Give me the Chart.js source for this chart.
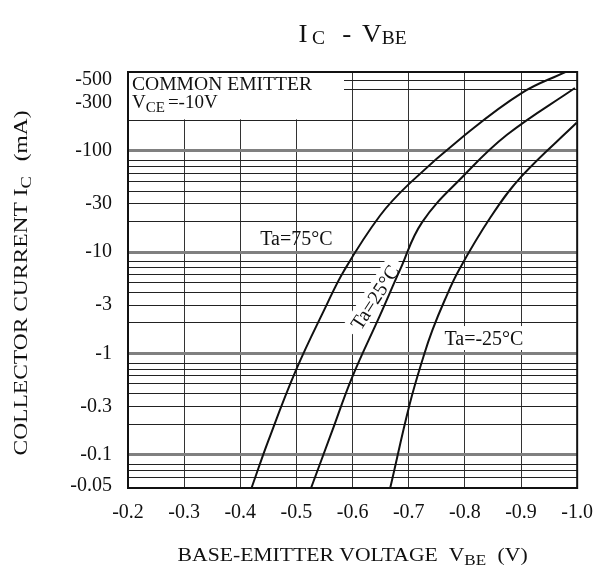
<!DOCTYPE html>
<html lang="en">
<head>
<meta charset="UTF-8">
<title>IC - VBE</title>
<script src="https://cdn.jsdelivr.net/npm/chart.js"></script>
<style>
  body { margin: 0; background: #fff; }
</style>
</head>
<body>
<canvas id="icVbe" width="606" height="575"></canvas>
<script>
// base-emitter voltage (V) and collector current |Ic| (mA, labelled negative)
const vbe75 = [-0.420, -0.450, -0.499, -0.551, -0.585, -0.649, -0.702, -0.799, -0.901, -0.979];
const ic75 = [0.047, 0.138, 0.68, 2.8, 6.6, 23, 48, 142, 372, 600];

const vbe25 = [-0.526, -0.563, -0.599, -0.649, -0.684, -0.724, -0.799, -0.875, -0.996];
const ic25 = [0.047, 0.168, 0.578, 2.39, 6.6, 19.8, 57.8, 144, 417];

const vbeM25 = [-0.667, -0.702, -0.727, -0.742, -0.764, -0.789, -0.846, -0.900, -0.999];
const icM25 = [0.047, 0.32, 0.96, 1.69, 3.35, 6.6, 22.2, 55.3, 189];

const xTicks = [-0.2, -0.3, -0.4, -0.5, -0.6, -0.7, -0.8, -0.9, -1.0];
const yLabels = [0.05, 0.1, 0.3, 1, 3, 10, 30, 100, 300, 500];
const yDecades = [0.1, 1, 10, 100];
const yMinor = [0.06, 0.07, 0.08,
  0.2, 0.3, 0.4, 0.5, 0.6, 0.7, 0.8,
  2, 3, 4, 5, 6, 7, 8,
  20, 30, 40, 50, 60, 70, 80,
  200, 400, 500];
const yTicks = [...new Set([...yLabels, ...yDecades, ...yMinor])].sort((a, b) => a - b);

const FONT = '"Liberation Serif", "Times New Roman", serif';

function pts(xs, ys) {
  return xs.map((x, i) => ({ x: x, y: ys[i] }));
}

// draws a row of text pieces (for subscripts); opt.width stretches to a length
function drawRuns(ctx, runs, x, y, opt) {
  opt = opt || {};
  ctx.save();
  let w = 0;
  runs.forEach(r => {
    if (r.t) {
      ctx.font = r.f + 'px ' + FONT;
      r.w = ctx.measureText(r.t).width;
    } else {
      r.w = r.gap;
    }
    w += r.w;
  });
  const sx = opt.width ? opt.width / w : 1;
  ctx.translate(x, y);
  if (opt.rotate) ctx.rotate(opt.rotate);
  ctx.scale(sx, 1);
  let cx = opt.align === 'left' ? 0 : -w / 2;
  ctx.fillStyle = '#111';
  ctx.textBaseline = 'alphabetic';
  ctx.textAlign = 'left';
  runs.forEach(r => {
    if (r.t) {
      ctx.font = r.f + 'px ' + FONT;
      ctx.fillText(r.t, cx, r.dy || 0);
    }
    cx += r.w;
  });
  ctx.restore();
}

const labelPos = {
  t75: { x: -0.500, y: 13.8 },
  t25: { x: -0.639, y: 3.6 },
  tM25: { x: -0.834, y: 1.42 }
};
const ANGLE25 = -57 * Math.PI / 180;

const decor = {
  id: 'decor',
  beforeDatasetsDraw(chart) {
    const { ctx, chartArea: a, scales } = chart;
    const xs = scales.x, ys = scales.y;
    ctx.save();
    ctx.fillStyle = '#fff';
    // legend box in the top left corner
    ctx.fillRect(a.left + 1, a.top + 1, 343 - a.left, ys.getPixelForValue(200) - a.top - 2);
    // box behind Ta=-25
    const px = xs.getPixelForValue(labelPos.tM25.x), py = ys.getPixelForValue(labelPos.tM25.y);
    ctx.fillRect(px - 43, py - 12, 92, 24);
    // rotated box behind Ta=25
    ctx.translate(xs.getPixelForValue(labelPos.t25.x), ys.getPixelForValue(labelPos.t25.y));
    ctx.rotate(ANGLE25);
    ctx.fillRect(-43, -11, 86, 21);
    ctx.restore();
  },
  afterDatasetsDraw(chart) {
    const { ctx, chartArea: a, scales } = chart;
    const xs = scales.x, ys = scales.y;
    ctx.save();
    ctx.strokeStyle = '#111';
    ctx.lineWidth = 2;
    ctx.strokeRect(a.left, a.top, a.right - a.left, a.bottom - a.top);
    ctx.restore();

    drawRuns(ctx, [{ t: 'COMMON EMITTER', f: 19 }], a.left + 4, a.top + 18, { align: 'left', width: 180 });
    drawRuns(ctx, [{ t: 'V', f: 19 }, { t: 'CE', f: 15, dy: 4 }, { gap: 3 }, { t: '=-10V', f: 19 }],
      a.left + 4, a.top + 36, { align: 'left' });

    drawRuns(ctx, [{ t: 'Ta=75°C', f: 20, dy: 7 }],
      xs.getPixelForValue(labelPos.t75.x), ys.getPixelForValue(labelPos.t75.y));
    drawRuns(ctx, [{ t: 'Ta=-25°C', f: 20, dy: 7 }],
      xs.getPixelForValue(labelPos.tM25.x), ys.getPixelForValue(labelPos.tM25.y));
    drawRuns(ctx, [{ t: 'Ta=25°C', f: 20, dy: 7 }],
      xs.getPixelForValue(labelPos.t25.x), ys.getPixelForValue(labelPos.t25.y), { rotate: ANGLE25 });

    const mid = (a.left + a.right) / 2;
    drawRuns(ctx, [{ t: 'I', f: 25 }, { gap: 4 }, { t: 'C', f: 18, dy: 2 }, { gap: 16 },
      { t: '-', f: 25 }, { gap: 10 }, { t: 'V', f: 25 }, { t: 'BE', f: 18, dy: 2 }],
      mid, 42, { width: 108 });

    drawRuns(ctx, [{ t: 'BASE-EMITTER VOLTAGE  V', f: 19 }, { t: 'BE', f: 15, dy: 4 }, { gap: 10 }, { t: '(V)', f: 19 }],
      mid, 561, { width: 350 });

    drawRuns(ctx, [{ t: 'COLLECTOR CURRENT I', f: 19 }, { t: 'C', f: 15, dy: 4 }, { gap: 12 }, { t: '(mA)', f: 19 }],
      27, 283, { rotate: -Math.PI / 2, width: 345 });
  }
};

const line = (data) => ({
  data: data,
  showLine: true,
  borderColor: '#111',
  borderWidth: 2,
  pointRadius: 0,
  tension: 0.4,
  fill: false
});

new Chart(document.getElementById('icVbe').getContext('2d'), {
  type: 'scatter',
  data: {
    datasets: [
      Object.assign(line(pts(vbe75, ic75)), { label: 'Ta=75°C' }),
      Object.assign(line(pts(vbe25, ic25)), { label: 'Ta=25°C' }),
      Object.assign(line(pts(vbeM25, icM25)), { label: 'Ta=-25°C' })
    ]
  },
  options: {
    responsive: false,
    animation: false,
    layout: { padding: { top: 72, right: 17, left: 0, bottom: 0 } },
    plugins: { legend: { display: false }, tooltip: { enabled: false } },
    scales: {
      x: {
        type: 'linear',
        min: -1.0,
        max: -0.2,
        reverse: true,
        afterBuildTicks: s => { s.ticks = xTicks.map(v => ({ value: v })); },
        afterFit: s => { s.height = 87; },
        border: { display: false },
        grid: { color: '#333', lineWidth: 1, drawTicks: false },
        ticks: {
          autoSkip: false,
          maxRotation: 0,
          padding: 13,
          color: '#111',
          font: { family: FONT, size: 20 },
          callback: v => Number(v).toFixed(1)
        }
      },
      y: {
        type: 'logarithmic',
        min: 0.047,
        max: 600,
        afterBuildTicks: s => { s.ticks = yTicks.map(v => ({ value: v })); },
        afterFit: s => { s.width = 128; },
        border: { display: false },
        grid: {
          drawTicks: false,
          color: c => {
            const v = c.tick ? c.tick.value : null;
            if (yDecades.includes(v)) return '#808080';
            if (yMinor.includes(v)) return '#222';
            return 'rgba(0,0,0,0)';
          },
          lineWidth: c => (c.tick && yDecades.includes(c.tick.value)) ? 3 : 1
        },
        ticks: {
          autoSkip: false,
          padding: 16,
          color: '#111',
          font: { family: FONT, size: 20 },
          callback: v => yLabels.includes(v) ? '-' + v : ''
        }
      }
    }
  },
  plugins: [decor]
});
</script>
</body>
</html>
